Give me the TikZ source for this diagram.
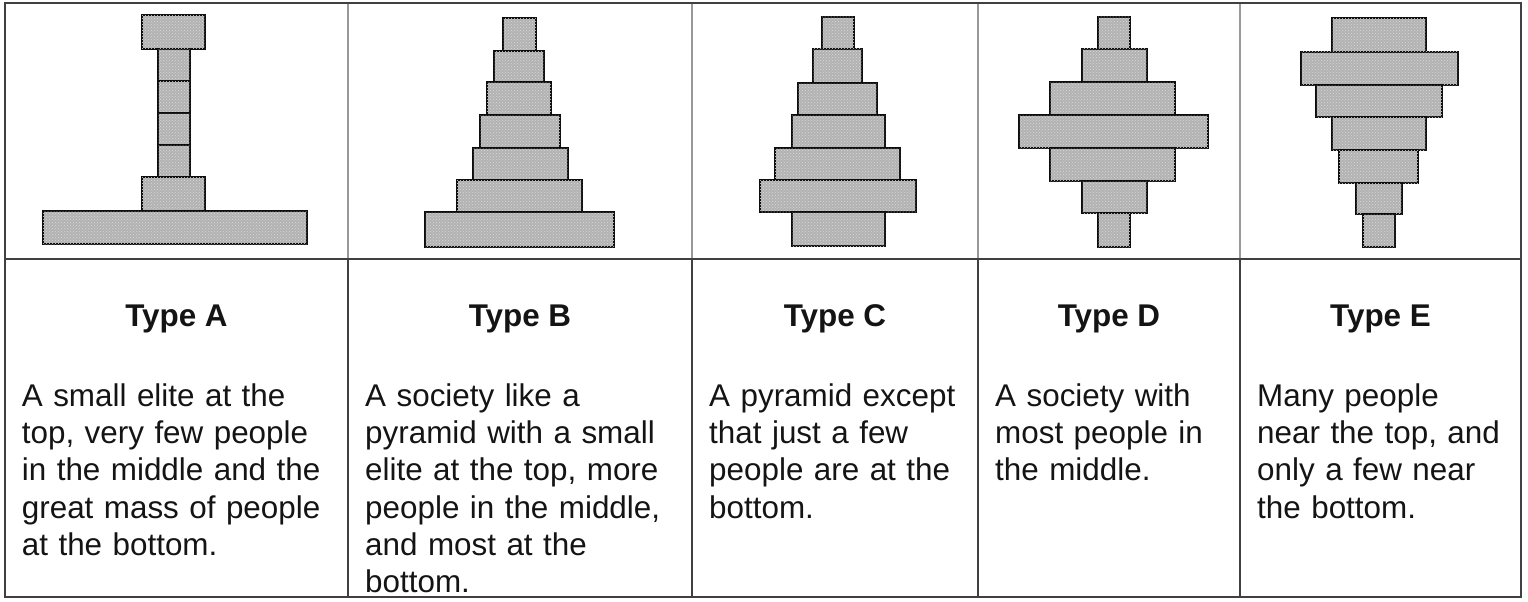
\documentclass[tikz,border=0pt]{standalone}
\usepackage{fontspec}
\setmainfont{Liberation Sans}
\usetikzlibrary{patterns}

\tikzset{
  tier/.style 2 args={draw=black!95, line width=2.4, fill=black!30,
    postaction={pattern=crosshatch dots, pattern color=white!85!black},
    inner sep=0, minimum width=#1, minimum height=#2},
  title/.style={anchor=base, font=\fontsize{31.4}{37.1}\selectfont\bfseries, text=black!92},
  desc/.style={anchor=base west, align=left, text width=330, inner sep=0,
    font=\fontsize{31.4}{37.1}\selectfont, text=black!92},
}

\begin{document}
\begin{tikzpicture}[x=1pt,y=-1pt]
  \useasboundingbox (0,0) rectangle (1528,602);

  % table
  \draw[black!40, line width=2] (348,3)--(348,259) (692,3)--(692,259)
        (978,3)--(978,259) (1240,3)--(1240,259);
  \draw[black!75, line width=2] (348,259)--(348,597) (692,259)--(692,597)
        (978,259)--(978,597) (1240,259)--(1240,597);
  \draw[black!75, line width=2] (5,259)--(1521,259);
  \draw[black!75, line width=2] (5,3) rectangle (1521,597);

  % Type A
  \node[tier={63}{34}] (A1) at (173.5,32) {};
  \node[tier={32}{32}] (A2) at (174,65) {};
  \node[tier={32}{32}] (A3) at (174,97) {};
  \node[tier={32}{32}] (A4) at (174,129) {};
  \node[tier={32}{32}] (A5) at (174,161) {};
  \node[tier={63}{34}] (A6) at (173.5,194) {};
  \node[tier={264}{33}] (A7) at (175,227.5) {};

  % Type B
  \node[tier={33}{33}] (B1) at (519.5,34.5) {};
  \node[tier={50}{31}] (B2) at (519,66.5) {};
  \node[tier={64}{33}] (B3) at (519,98.5) {};
  \node[tier={80}{33}] (B4) at (520,131.5) {};
  \node[tier={95}{32}] (B5) at (520.5,164) {};
  \node[tier={125}{32}] (B6) at (519.5,196) {};
  \node[tier={189}{35}] (B7) at (519.5,229.5) {};

  % Type C
  \node[tier={32}{32}] (C1) at (838,33) {};
  \node[tier={49}{34}] (C2) at (837.5,66) {};
  \node[tier={79}{32}] (C3) at (837.5,99) {};
  \node[tier={93}{33}] (C4) at (838.5,131.5) {};
  \node[tier={125}{32}] (C5) at (837.5,164) {};
  \node[tier={156}{32}] (C6) at (838,196) {};
  \node[tier={93}{34}] (C7) at (838.5,229) {};

  % Type D
  \node[tier={32}{32}] (D1) at (1114,33) {};
  \node[tier={65}{33}] (D2) at (1114.5,65.5) {};
  \node[tier={125}{33}] (D3) at (1112.5,98.5) {};
  \node[tier={189}{33}] (D4) at (1113.5,131.5) {};
  \node[tier={125}{33}] (D5) at (1112.5,164.5) {};
  \node[tier={65}{32}] (D6) at (1114.5,197) {};
  \node[tier={32}{34}] (D7) at (1114,230) {};

  % Type E
  \node[tier={94}{34}] (E1) at (1379,35) {};
  \node[tier={157}{33}] (E2) at (1379.5,68.5) {};
  \node[tier={126}{32}] (E3) at (1379,101) {};
  \node[tier={94}{33}] (E4) at (1379,133.5) {};
  \node[tier={79}{33}] (E5) at (1378.5,166.5) {};
  \node[tier={46}{31}] (E6) at (1379,198.5) {};
  \node[tier={32}{33}] (E7) at (1379,230.5) {};

  % titles
  \node[title] (TA) at (176.5,326.7) {Type A};
  \node[title] (TB) at (520,326.7) {Type B};
  \node[title] (TC) at (835,326.7) {Type C};
  \node[title] (TD) at (1109,326.7) {Type D};
  \node[title] (TE) at (1380.5,326.7) {Type E};

  % descriptions
  \node[desc] (XA) at (21.7,406.7) {A small elite at the\\ top, very few people\\ in the middle and the\\ great mass of people\\ at the bottom.};
  \node[desc] (XB) at (365,406.7) {A society like a\\ pyramid with a small\\ elite at the top, more\\ people in the middle,\\ and most at the\\ bottom.};
  \node[desc] (XC) at (709,406.7) {A pyramid except\\ that just a few\\ people are at the\\ bottom.};
  \node[desc] (XD) at (995,406.7) {A society with\\ most people in\\ the middle.};
  \node[desc] (XE) at (1257,406.7) {Many people\\ near the top, and\\ only a few near\\ the bottom.};
\end{tikzpicture}
\end{document}
